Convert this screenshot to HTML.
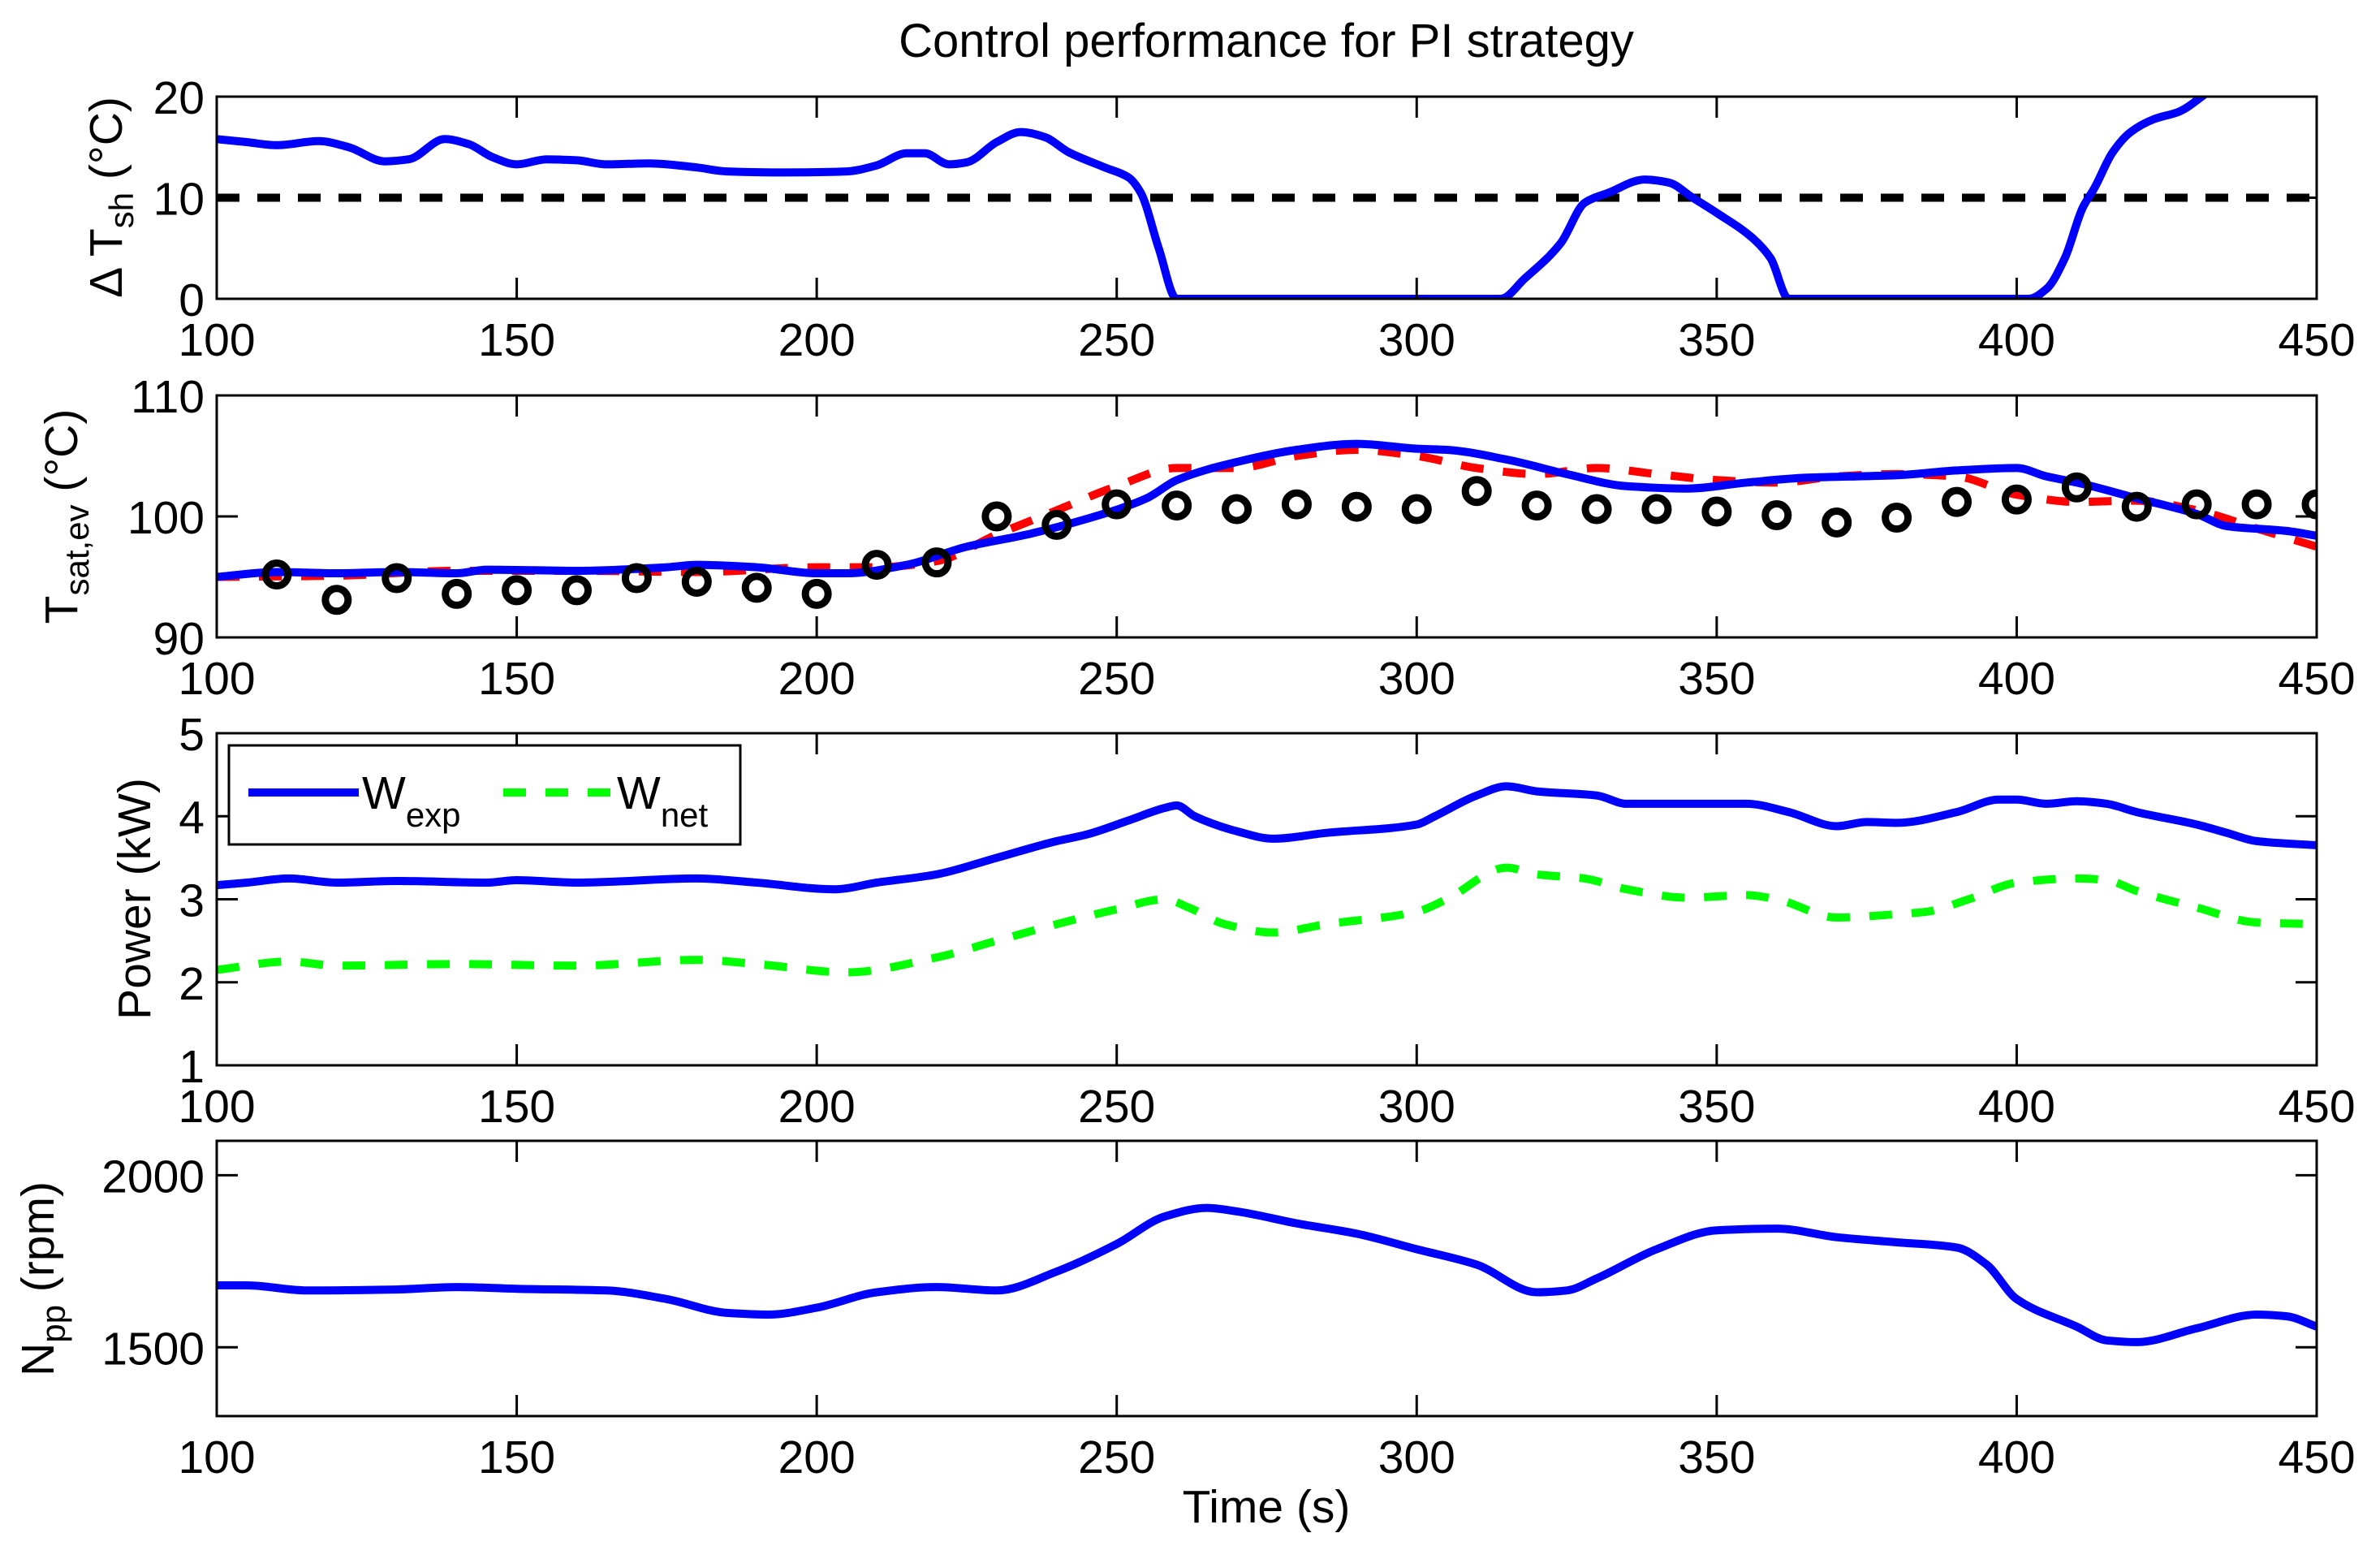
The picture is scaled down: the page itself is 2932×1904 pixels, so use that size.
<!DOCTYPE html>
<html><head><meta charset="utf-8"><style>
html,body{margin:0;padding:0;background:#fff;}
svg{display:block;font-family:"Liberation Sans",Arial,sans-serif;}
</style></head><body>
<svg id="fig" width="2932" height="1904" viewBox="0 0 2932 1904" xmlns="http://www.w3.org/2000/svg">
<rect width="2932" height="1904" fill="#fff"/>
<text x="1560" y="70" font-size="58" text-anchor="middle">Control performance for PI strategy</text>
<text x="1560" y="1875" font-size="57" text-anchor="middle">Time (s)</text>
<g id="plots"></g>
</svg>
<script>
// ---- data ----
const xTicks = [100,150,200,250,300,350,400,450];
const tshT = [100,105,110,117,122,128,132,138,142,146,150,155,160,165,172,180,185,195,205,210,215,218,222,225,230,234,238,242,248,252,254,257,260,314,318,324,328,332,338,342,346,350,356,359,362,402,405,408,411,413,416,419,423,427,432];
const tshV = [15.8,15.5,15.2,15.6,15,13.6,13.8,15.8,15.3,14,13.3,13.8,13.7,13.3,13.4,13,12.6,12.5,12.6,13.2,14.4,14.4,13.3,13.5,15.5,16.5,16,14.5,13,12,10.5,5,0,0,2,5.5,9.5,10.5,11.8,11.5,10,8.5,6,4,0,0,1,4,9,11,14.5,16.5,17.8,18.5,20.5];
const tshRef = 10;
const tshTicks = [0,10,20];

const satT = [100,110,120,130,140,145,160,175,180,190,200,205,215,225,235,245,255,260,270,280,290,300,305,315,325,335,345,355,365,380,390,400,405,410,420,430,435,445,450];
const satV = [95,95.4,95.3,95.4,95.3,95.6,95.5,95.8,96,95.8,95.3,95.3,96,97.5,98.5,99.8,101.5,103,104.5,105.5,106,105.6,105.5,104.7,103.5,102.5,102.3,102.8,103.2,103.4,103.8,104,103.3,102.8,101.5,100.2,99.2,98.8,98.4];
const satRefT = [100,120,140,160,180,200,210,220,230,240,250,260,270,280,290,300,310,320,330,340,350,360,370,380,390,400,410,420,430,440,450];
const satRefV = [95,95.1,95.5,95.5,95.4,95.8,95.8,96.3,98.5,100.5,102.5,104,104,105,105.5,105,104,103.5,104,103.5,103,102.8,103.3,103.5,103.3,101.8,101.2,101.3,100.5,99,97.5];
const satMeasT = [110,120,130,140,150,160,170,180,190,200,210,220,230,240,250,260,270,280,290,300,310,320,330,340,350,360,370,380,390,400,410,420,430,440,450];
const satMeasV = [95.2,93.1,94.9,93.6,93.9,93.9,94.9,94.6,94.1,93.6,96,96.2,100,99.3,101,100.9,100.6,101,100.8,100.6,102.1,100.9,100.6,100.6,100.4,100.1,99.5,99.9,101.2,101.4,102.4,100.8,101,101,101];
const satTicks = [90,100,110];

const wexpT = [100,105,112,120,130,145,150,160,180,190,203,210,220,230,240,245,252,258,260,263,270,276,285,300,303,310,315,320,330,335,345,355,362,370,375,380,390,397,400,405,410,415,420,430,435,440,450];
const wexpV = [3.17,3.2,3.25,3.2,3.22,3.2,3.23,3.2,3.25,3.2,3.12,3.2,3.3,3.5,3.7,3.78,3.95,4.1,4.13,4.0,3.82,3.73,3.8,3.9,4.0,4.25,4.36,4.3,4.25,4.15,4.15,4.15,4.05,3.88,3.93,3.92,4.05,4.2,4.2,4.15,4.18,4.15,4.05,3.9,3.8,3.7,3.65];
const wnetT = [100,112,120,140,160,180,190,205,220,230,240,250,258,262,268,276,285,300,305,315,320,328,335,345,355,360,370,380,385,392,400,410,415,420,430,440,450];
const wnetV = [2.15,2.25,2.2,2.22,2.2,2.27,2.22,2.12,2.3,2.5,2.7,2.88,3.0,2.9,2.7,2.6,2.7,2.85,3.0,3.38,3.3,3.25,3.12,3.02,3.05,3.0,2.78,2.82,2.85,3.0,3.2,3.25,3.23,3.1,2.9,2.72,2.7];
const powTicks = [1,2,3,4,5];

const nppT = [100,105,115,130,140,150,165,175,185,192,200,210,220,230,240,250,258,265,270,280,290,300,310,320,325,330,340,350,360,370,380,390,395,400,410,415,420,430,440,445,450];
const nppV = [1680,1680,1665,1668,1675,1670,1665,1640,1600,1595,1615,1660,1675,1665,1720,1800,1880,1905,1895,1860,1830,1785,1740,1660,1665,1700,1785,1840,1845,1820,1805,1790,1740,1640,1560,1520,1515,1555,1595,1590,1560];
const nppTicks = [1500,2000];

// ---- layout ----
const NS = "http://www.w3.org/2000/svg";
const L = 267, R = 2854, X0 = 100, X1 = 450;
const sx = v => L + (v - X0) / (X1 - X0) * (R - L);
const root = document.getElementById('plots');
function el(tag, attrs, parent){ const e = document.createElementNS(NS, tag); for (const k in attrs) e.setAttribute(k, attrs[k]); (parent||root).appendChild(e); return e; }
// monotone cubic (Fritsch-Carlson) in x
function smooth(pts){
  const n = pts.length;
  const dx = [], dy = [], m = [];
  for (let i = 0; i < n - 1; i++) { dx.push(pts[i+1][0]-pts[i][0]); dy.push(pts[i+1][1]-pts[i][1]); m.push(dy[i]/dx[i]); }
  const t = new Array(n);
  t[0] = m[0]; t[n-1] = m[n-2];
  for (let i = 1; i < n - 1; i++) {
    if (m[i-1] * m[i] <= 0) t[i] = 0;
    else { const w1 = 2*dx[i] + dx[i-1], w2 = dx[i] + 2*dx[i-1]; t[i] = (w1 + w2) / (w1/m[i-1] + w2/m[i]); }
  }
  let d = 'M' + pts[0][0].toFixed(1) + ',' + pts[0][1].toFixed(1);
  for (let i = 0; i < n - 1; i++) {
    const h = dx[i] / 3;
    d += 'C' + (pts[i][0]+h).toFixed(1) + ',' + (pts[i][1]+t[i]*h).toFixed(1) + ' ' +
         (pts[i+1][0]-h).toFixed(1) + ',' + (pts[i+1][1]-t[i+1]*h).toFixed(1) + ' ' +
         pts[i+1][0].toFixed(1) + ',' + pts[i+1][1].toFixed(1);
  }
  return d;
}
function panel(id, top, bot, y0, y1){
  const sy = v => bot - (v - y0) / (y1 - y0) * (bot - top);
  const g = el('g', {});
  
  
  const cp = el('clipPath', {id: id + '-clip'}, g);
  el('rect', {x: L, y: top, width: R - L, height: bot - top}, cp);
  const plot = el('g', {'clip-path': 'url(#' + id + '-clip)'}, g);
  return {g, plot, sy, top, bot};
}
function axes(P, yTicks, id){
  const {g, sy, top, bot} = P;
  const ax = el('g', {stroke: '#000', 'stroke-width': 3, fill: 'none'}, g);
  
  
  el('rect', {x: L, y: top, width: R - L, height: bot - top}, ax);
  xTicks.forEach(t => {
    const x = sx(t);
    el('line', {x1: x, y1: bot, x2: x, y2: bot - 26}, ax);
    el('line', {x1: x, y1: top, x2: x, y2: top + 26}, ax);
    const lb = el('text', {x: x, y: bot + 70, 'font-size': 57, 'text-anchor': 'middle'}, g);
    lb.textContent = t;
    
    
  });
  yTicks.forEach(t => {
    const y = sy(t);
    el('line', {x1: L, y1: y, x2: L + 26, y2: y}, ax);
    el('line', {x1: R, y1: y, x2: R - 26, y2: y}, ax);
    const lb = el('text', {x: 252, y: y + 21, 'font-size': 57, 'text-anchor': 'end'}, g);
    lb.textContent = t;
    
    
  });
}
function line(P, T, V, color, dash, name){
  const p = el('path', {d: smooth(T.map((t,i)=>[sx(t), P.sy(V[i])])), fill: 'none', stroke: color, 'stroke-width': 10, 'stroke-linejoin': 'round'}, P.plot);
  if (dash) p.setAttribute('stroke-dasharray', dash);
  
  
}
function ylabel(x, cy, html, name){
  const t = el('text', {x: 0, y: 0, 'font-size': 57, 'text-anchor': 'middle', transform: 'translate(' + x + ',' + cy + ') rotate(-90)'});
  t.innerHTML = html;
  
  
}

// Panel 1
const P1 = panel('superheat', 119, 368, 0, 20);
const ref = el('line', {x1: L, x2: R, y1: P1.sy(tshRef), y2: P1.sy(tshRef), stroke: '#000', 'stroke-width': 10, 'stroke-dasharray': '28 22'}, P1.plot);


line(P1, tshT, tshV, '#0000ff', null, 'superheat-line');
axes(P1, tshTicks, 'superheat');
ylabel(150, 243, 'Δ T<tspan font-size="42" dy="14">sh</tspan><tspan dy="-14"> (°C)</tspan>', 'superheat-y-axis-title');

// Panel 2
const P2 = panel('tsat', 487, 785, 90, 110);
line(P2, satRefT, satRefV, '#ff0000', '28 24', 'tsat-reference-line');
line(P2, satT, satV, '#0000ff', null, 'tsat-line');
satMeasT.forEach((t,i) => {
  const c = el('circle', {cx: sx(t), cy: P2.sy(satMeasV[i]), r: 14, fill: 'none', stroke: '#000', 'stroke-width': 9}, P2.plot);
  
  
});
axes(P2, satTicks, 'tsat');
ylabel(95, 636, 'T<tspan font-size="42" dy="14">sat,ev</tspan><tspan dy="-14"> (°C)</tspan>', 'tsat-y-axis-title');

// Panel 3
const P3 = panel('power', 903, 1312, 1, 5);
line(P3, wexpT, wexpV, '#0000ff', null, 'wexp-line');
line(P3, wnetT, wnetV, '#00ff00', '28 24', 'wnet-line');
axes(P3, powTicks, 'power');
ylabel(185, 1107, 'Power (kW)', 'power-y-axis-title');
// legend
const lg = el('g', {});


el('rect', {x: 282, y: 918, width: 630, height: 122, fill: '#fff', stroke: '#000', 'stroke-width': 3}, lg);
const le1 = el('line', {x1: 306, x2: 442, y1: 976, y2: 976, stroke: '#0000ff', 'stroke-width': 10}, lg);


const lt1 = el('text', {x: 446, y: 996, 'font-size': 57}, lg);
lt1.innerHTML = 'W<tspan font-size="42" dy="22">exp</tspan>';


const le2 = el('line', {x1: 620, x2: 756, y1: 976, y2: 976, stroke: '#00ff00', 'stroke-width': 10, 'stroke-dasharray': '28 24'}, lg);


const lt2 = el('text', {x: 760, y: 996, 'font-size': 57}, lg);
lt2.innerHTML = 'W<tspan font-size="42" dy="22">net</tspan>';



// Panel 4
const P4 = panel('npp', 1405, 1744, 1300, 2100);
line(P4, nppT, nppV, '#0000ff', null, 'npp-line');
axes(P4, nppTicks, 'npp');
ylabel(66, 1575, 'N<tspan font-size="42" dy="14">pp</tspan><tspan dy="-14"> (rpm)</tspan>', 'npp-y-axis-title');
</script>
</body></html>
